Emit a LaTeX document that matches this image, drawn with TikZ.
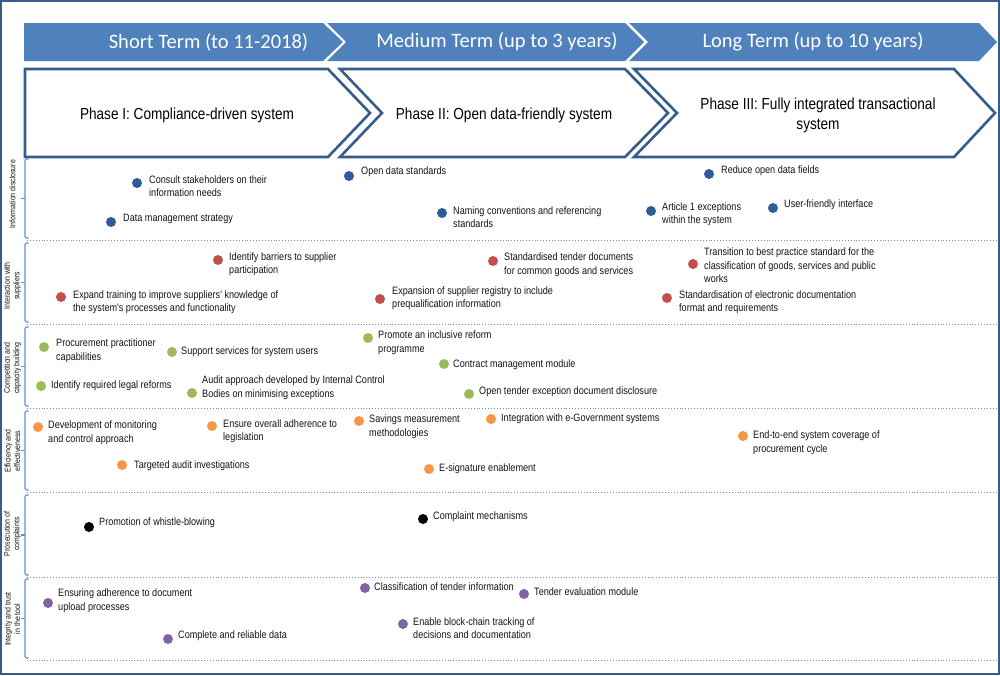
\documentclass[tikz,border=0pt]{standalone}
\usepackage{fontspec}
\setmainfont{Liberation Sans}
\newfontfamily\narf{Liberation Sans}[FakeStretch=0.85]
\newfontfamily\hdrf{Carlito}
\definecolor{hdrblue}{RGB}{79,129,189}
\definecolor{boxblue}{RGB}{56,93,138}
\definecolor{lineblue}{RGB}{100,145,205}
\definecolor{cb}{RGB}{46,92,153}
\definecolor{cr}{RGB}{192,80,77}
\definecolor{cg}{RGB}{155,187,89}
\definecolor{co}{RGB}{247,150,70}
\definecolor{cp}{RGB}{128,100,162}
\definecolor{ck}{RGB}{0,0,0}
\definecolor{txtc}{RGB}{20,20,20}
\tikzset{
  dotst/.style={circle,inner sep=0pt,minimum size=10pt,draw=none},
  txt/.style={anchor=west,inner sep=0pt,align=left,text=txtc,font=\narf\fontsize{10.7}{13.5}\selectfont},
  hdrtxt/.style={text=white,inner sep=0pt,font=\hdrf\fontsize{20.5}{24}\selectfont},
  phtxt/.style={text=black,inner sep=0pt,align=center,font=\narf\fontsize{16}{20}\selectfont},
  rowlab/.style={rotate=90,inner sep=0pt,align=center,text=txtc,font=\narf\fontsize{8.2}{9.5}\selectfont},
  hdrseg/.style={fill=hdrblue,draw=none},
  phbox/.style={fill=white,draw=boxblue,line width=2.6pt,line join=miter},
  bracket/.style={draw=lineblue,line width=1.1pt,rounded corners=1.5pt},
  sep/.style={draw=lineblue,line width=0.9pt,dotted}
}
\newcommand\itm[7]{\node[dotst,fill=#2] (d#1) at (#3,#4) {}; \node[txt] (t#1) at (#5,#6) {#7};}
\newcommand\rowbr[3]{% name, top, bottom
  \draw[bracket] (28.5,#2) -- (25,#2) -- (25,#3) -- (28.5,#3);
  \draw[draw=lineblue,line width=1.1pt] (25,{(#2+#3)/2}) -- (20.5,{(#2+#3)/2});
}
\begin{document}
\begin{tikzpicture}[x=1pt,y=-1pt]
\useasboundingbox (0,0) rectangle (1000,675);
\fill[white] (0,0) rectangle (1000,675);
% header band
\path[hdrseg] (24,23) -- (323,23) -- (343,42) -- (323,61) -- (24,61) -- cycle;
\path[hdrseg] (327,23) -- (625,23) -- (644,42) -- (625,61) -- (327,61) -- (346,42) -- cycle;
\path[hdrseg] (629,23) -- (979,23) -- (997,42) -- (979,61) -- (629,61) -- (648,42) -- cycle;
\node[hdrtxt] (h1) at (208.5,42) {Short Term (to 11-2018)};
\node[hdrtxt] (h2) at (497,42) {Medium Term (up to 3 years)};
\node[hdrtxt] (h3) at (813,42) {Long Term (up to 10 years)};
% phase boxes
\path[phbox] (25,69) -- (328,69) -- (370,113) -- (328,157) -- (25,157) -- cycle;
\path[phbox] (340,69) -- (625,69) -- (668,113) -- (625,157) -- (340,157) -- (382,113) -- cycle;
\path[phbox] (634,69) -- (954,69) -- (995,113) -- (954,157) -- (634,157) -- (677,113) -- cycle;
\node[phtxt] (p1) at (187,115) {Phase I: Compliance-driven system};
\node[phtxt] (p2) at (504,115) {Phase II: Open data-friendly system};
\node[phtxt] (p3) at (818,115) {Phase III: Fully integrated transactional\\system};
% rows
\rowbr{r1}{159}{238}
\rowbr{r2}{243}{322}
\rowbr{r3}{327}{406}
\rowbr{r4}{411}{490}
\rowbr{r5}{495}{575}
\rowbr{r6}{579}{658}
\draw[sep] (27,240.5) -- (998,240.5);
\draw[sep] (27,324.5) -- (998,324.5);
\draw[sep] (27,408) -- (998,408);
\draw[sep] (27,492) -- (998,492);
\draw[sep] (27,577) -- (998,577);
\draw[sep] (27,660) -- (998,660);
\node[rowlab] (l1) at (12.5,194) {Information disclosure};
\node[rowlab] (l2) at (12.5,286) {Interaction with\\suppliers};
\node[rowlab] (l3) at (12.5,368) {Competition and\\capacity building};
\node[rowlab] (l4) at (12.5,451) {Efficiency and\\effectiveness};
\node[rowlab] (l5) at (12.5,534) {Prosecution of\\complaints};
\node[rowlab] (l6) at (12.5,619) {Integrity and trust\\in the tool};
% row 1
\itm{a1}{cb}{137}{183}{149}{186}{Consult stakeholders on their\\information needs}
\itm{a2}{cb}{111}{222}{123}{219}{Data management strategy}
\itm{a3}{cb}{349}{176}{361}{172}{Open data standards}
\itm{a4}{cb}{442}{213}{453}{217}{Naming conventions and referencing\\standards}
\itm{a5}{cb}{709}{174}{721}{171}{Reduce open data fields}
\itm{a6}{cb}{651}{211}{662}{214}{Article 1 exceptions\\within the system}
\itm{a7}{cb}{773}{208}{784}{205}{User-friendly interface}
% row 2
\itm{b1}{cr}{218}{260}{229}{264}{Identify barriers to supplier\\participation}
\itm{b2}{cr}{61}{297}{73}{302}{Expand training to improve suppliers' knowledge of\\the system's processes and functionality}
\itm{b3}{cr}{493}{261}{504}{264.5}{Standardised tender documents\\for common goods and services}
\itm{b4}{cr}{380}{299}{392}{298}{Expansion of supplier registry to include\\prequalification information}
\itm{b5}{cr}{693}{264}{704}{265.5}{Transition to best practice standard for the\\classification of goods, services and public\\works}
\itm{b6}{cr}{667}{298}{679}{302}{Standardisation of electronic documentation\\format and requirements}
% row 3
\itm{c1}{cg}{44}{347}{56}{350.5}{Procurement practitioner\\capabilities}
\itm{c2}{cg}{172}{352}{181}{352}{Support services for system users}
\itm{c3}{cg}{41}{386}{51}{386}{Identify required legal reforms}
\itm{c4}{cg}{192}{393}{202}{387.5}{Audit approach developed by Internal Control\\Bodies on minimising exceptions}
\itm{c5}{cg}{368}{338}{378}{342.5}{Promote an inclusive reform\\programme}
\itm{c6}{cg}{444}{364}{453}{365}{Contract management module}
\itm{c7}{cg}{469}{394}{479}{392}{Open tender exception document disclosure}
% row 4
\itm{e1}{co}{38}{427}{48}{432.5}{Development of monitoring\\and control approach}
\itm{e2}{co}{212}{426}{223}{431}{Ensure overall adherence to\\legislation}
\itm{e3}{co}{122}{465}{134}{466}{Targeted audit investigations}
\itm{e4}{co}{359}{421}{369}{426.5}{Savings measurement\\methodologies}
\itm{e5}{co}{491}{419}{501}{419}{Integration with e-Government systems}
\itm{e6}{co}{429}{469}{439}{469}{E-signature enablement}
\itm{e7}{co}{743}{436}{753}{442.5}{End-to-end system coverage of\\procurement cycle}
% row 5
\itm{f1}{ck}{89}{527}{99}{523}{Promotion of whistle-blowing}
\itm{f2}{ck}{423}{519}{433}{517}{Complaint mechanisms}
% row 6
\itm{g1}{cp}{48}{603}{58}{600.5}{Ensuring adherence to document\\upload processes}
\itm{g2}{cp}{168}{639}{178}{636}{Complete and reliable data}
\itm{g3}{cp}{365}{588}{374}{587}{Classification of tender information}
\itm{g4}{cp}{524}{594}{534}{592}{Tender evaluation module}
\itm{g5}{cp}{403}{624}{413}{628}{Enable block-chain tracking of\\decisions and documentation}
% outer border
\draw[boxblue,line width=1.6pt] (1,1) rectangle (999,674);
\end{tikzpicture}
\end{document}
